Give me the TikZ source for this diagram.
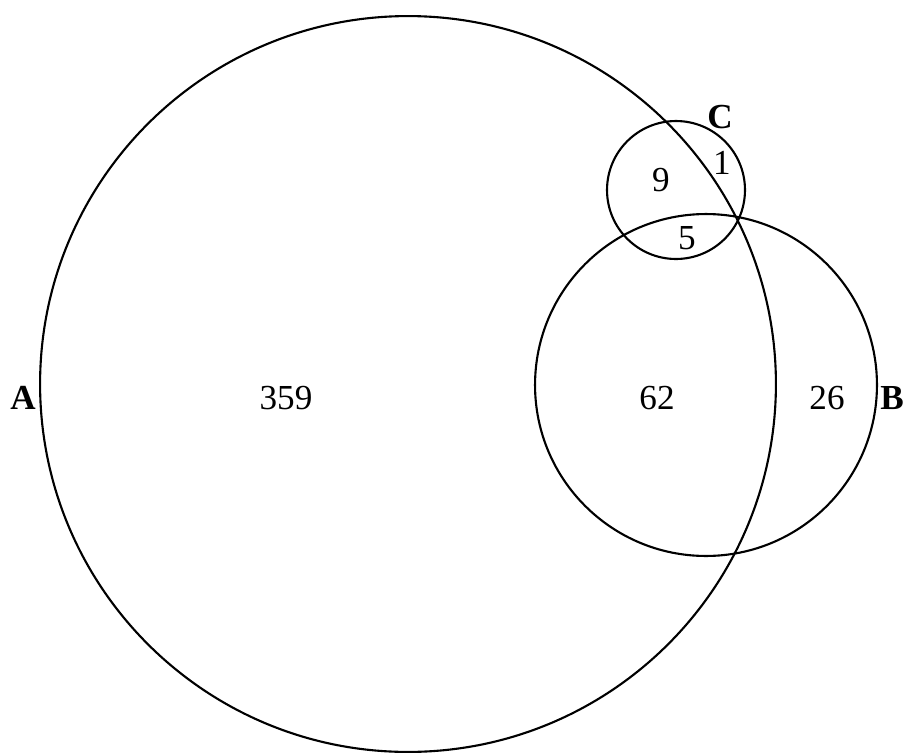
\documentclass[tikz,border=0pt]{standalone}
\usepackage{fontspec}
\setmainfont{Liberation Serif}
\usetikzlibrary{positioning}

\begin{document}
\begin{tikzpicture}[
x=0.02cm, y=-0.02cm,
set/.style={draw, circle, line width=1.2pt, inner sep=0pt},
count/.style={font=\fontsize{20}{24}\selectfont, inner sep=0pt},
setname/.style={font=\fontsize{20}{24}\selectfont\bfseries, inner sep=0pt} ]

\useasboundingbox (0,0) rectangle (903,754);

\node[set, minimum size=14.72cm] (A) at (408,384) {};

\node[set, minimum size=6.84cm] (B) at (706,385) {};

\node[set, minimum size=2.76cm] (C) at (676,190) {};

\node[setname] (nameA) at (23,398) {A};

\node[setname] (nameB) at (892,398) {B};

\node[setname] (nameC) at (720,117) {C};

\node[count] (onlyA) at (286,398) {359};

\node[count] (AB) at (657,398) {62};

\node[count] (onlyB) at (827,398) {26};

\node[count] (AC) at (661,180) {9};

\node[count] (onlyC) at (722,163) {1};

\node[count] (ABC) at (687,238) {5};


\end{tikzpicture}
\end{document}
